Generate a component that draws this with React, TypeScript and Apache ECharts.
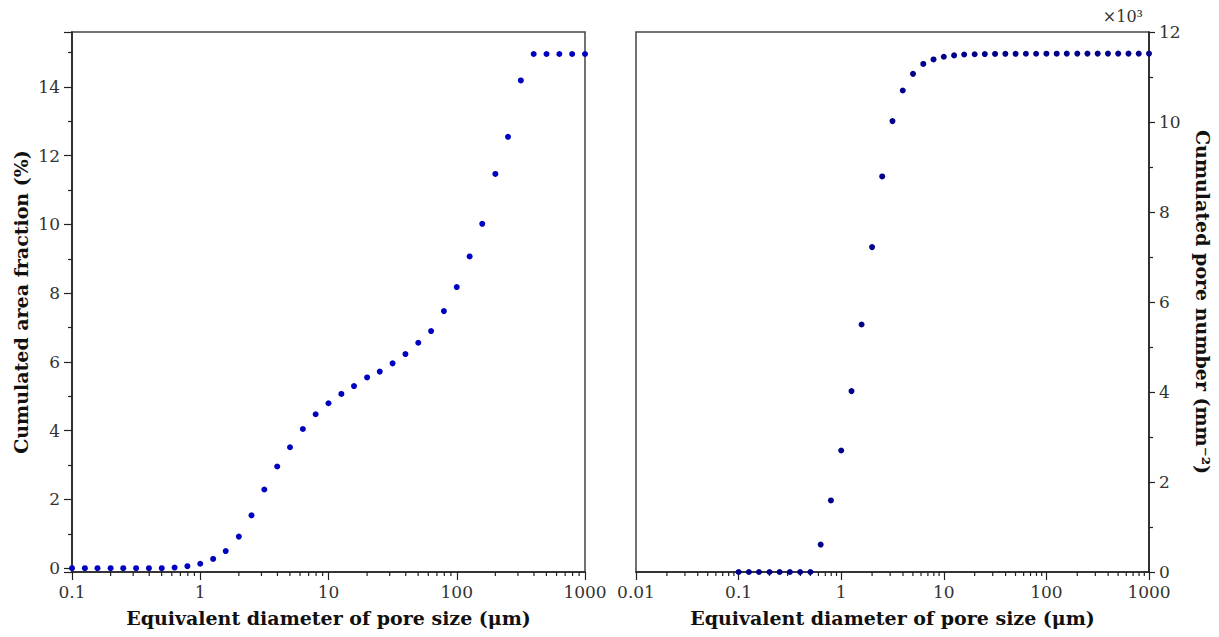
import React, { useEffect, useRef } from "react";
import * as echarts from "echarts";

// Equivalent diameter (µm) of each size class, shared by both panels
const diameters = [
  0.1, 0.126, 0.158, 0.2, 0.251, 0.316, 0.398, 0.501, 0.631, 0.794,
  1, 1.26, 1.58, 2, 2.51, 3.16, 3.98, 5.01, 6.31, 7.94,
  10, 12.6, 15.8, 20, 25.1, 31.6, 39.8, 50.1, 63.1, 79.4,
  100, 126, 158, 200, 251, 316, 398, 501, 631, 794, 1000,
];

// Left panel: cumulated area fraction (%)
const areaFraction = [
  0, 0, 0, 0, 0, 0, 0, 0, 0.02, 0.06,
  0.13, 0.27, 0.5, 0.92, 1.54, 2.29, 2.96, 3.52, 4.05, 4.48,
  4.8, 5.07, 5.3, 5.55, 5.72, 5.96, 6.23, 6.56, 6.9, 7.48,
  8.18, 9.07, 10.02, 11.47, 12.55, 14.19, 14.96, 14.96, 14.96, 14.96, 14.96,
];

// Right panel: cumulated pore number (mm^-2)
const poreNumber = [
  0, 0, 0, 0, 0, 0, 0, 0, 610, 1590,
  2700, 4020, 5500, 7220, 8790, 10020, 10700, 11070, 11290, 11390,
  11450, 11480, 11500, 11505, 11510, 11512, 11515, 11515, 11517, 11517,
  11518, 11518, 11520, 11520, 11520, 11520, 11520, 11520, 11520, 11520, 11520,
];

// Axis labels / ticks
const xTitle = "Equivalent diameter of pore size (μm)";
const leftYTitle = "Cumulated area fraction (%)";
const rightYTitle = "Cumulated pore number (mm⁻²)";
const leftDecades = [0.1, 1, 10, 100];
const rightDecades = [0.01, 0.1, 1, 10, 100];
const minorMultipliers = [2, 3, 4, 5, 6, 7, 8, 9];

const FONT = "DejaVu Serif";
const LEFT_YMIN = -0.11;

function minorTicks(decades: number[]) {
  const out: number[] = [];
  decades.forEach((d) => minorMultipliers.forEach((m) => out.push(+(d * m).toPrecision(3))));
  return out;
}

const fmtLog = (v: number) => (v >= 1 ? String(Math.round(v)) : String(parseFloat(v.toPrecision(3))));

export default function App() {
  const ref = useRef<HTMLDivElement>(null);
  useEffect(() => {
    if (!ref.current) return;
    const chart = echarts.init(ref.current, undefined, { renderer: "svg" });

    const axisLine = { show: true, onZero: false, lineStyle: { color: "#222", width: 1.6 } };
    const labelStyle = { fontFamily: FONT, fontSize: 17, color: "#333" };
    const nameStyle = { fontFamily: FONT, fontSize: 19, fontWeight: "bold" as const, color: "#111" };

    const tickRender = (len: number) => (params: any, api: any) => {
      const p = api.coord([api.value(0), api.value(1)]);
      return {
        type: "line",
        shape: { x1: p[0], y1: p[1], x2: p[0], y2: p[1] + len },
        style: { stroke: "#222", lineWidth: 1.2 },
      };
    };

    chart.setOption({
      animation: false,
      grid: [
        { left: 72, right: 634, top: 32, bottom: 65, show: true, borderColor: "#444", borderWidth: 1.5 },
        { left: 636, right: 70, top: 32, bottom: 65, show: true, borderColor: "#444", borderWidth: 1.5 },
      ],
      xAxis: [
        {
          type: "log", logBase: 10, gridIndex: 0, min: 0.1, max: 1000,
          axisLine, splitLine: { show: false },
          axisTick: { show: true, inside: false, length: 8, lineStyle: { color: "#222", width: 1.2 } },
          axisLabel: { ...labelStyle, margin: 11, formatter: fmtLog },
          name: xTitle, nameLocation: "middle", nameGap: 36, nameTextStyle: nameStyle,
        },
        {
          type: "log", logBase: 10, gridIndex: 1, min: 0.01, max: 1000,
          axisLine, splitLine: { show: false },
          axisTick: { show: true, inside: false, length: 8, lineStyle: { color: "#222", width: 1.2 } },
          axisLabel: { ...labelStyle, margin: 11, formatter: fmtLog },
          name: xTitle, nameLocation: "middle", nameGap: 36, nameTextStyle: nameStyle,
        },
      ],
      yAxis: [
        {
          type: "value", gridIndex: 0, min: LEFT_YMIN, max: 15.6, splitNumber: 8,
          axisLine, splitLine: { show: false },
          axisTick: { show: true, inside: false, length: 8, lineStyle: { color: "#222", width: 1.2 } },
          minorTick: { show: true, splitNumber: 2, length: 4, lineStyle: { color: "#222", width: 1.2 } },
          axisLabel: {
            ...labelStyle, margin: 12,
            formatter: (v: number) => {
              const r = Math.round(v);
              return Math.abs(v - r) < 1e-6 && r % 2 === 0 && r >= 0 && r <= 14 ? String(r) : "";
            },
          },
          name: leftYTitle, nameLocation: "middle", nameRotate: 90, nameGap: 42, nameTextStyle: nameStyle,
        },
        {
          type: "value", gridIndex: 1, position: "right", min: 0, max: 12000, interval: 2000,
          axisLine, splitLine: { show: false },
          axisTick: { show: true, inside: false, length: 6, lineStyle: { color: "#222", width: 1.2 } },
          minorTick: { show: true, splitNumber: 2, length: 4, lineStyle: { color: "#222", width: 1.2 } },
          axisLabel: { ...labelStyle, margin: 10, formatter: (v: number) => String(v / 1000) },
          name: rightYTitle, nameLocation: "middle", nameRotate: -90, nameGap: 44, nameTextStyle: nameStyle,
        },
      ],
      graphic: [
        {
          type: "text", right: 76, top: 8,
          style: { text: "×10³", fontFamily: FONT, fontSize: 16, fill: "#333" },
        },
      ],
      series: [
        {
          type: "scatter", xAxisIndex: 0, yAxisIndex: 0, symbolSize: 6,
          itemStyle: { color: "#0000c0", opacity: 1 },
          data: diameters.map((d, i) => [d, areaFraction[i]]),
        },
        {
          type: "scatter", xAxisIndex: 1, yAxisIndex: 1, symbolSize: 6,
          itemStyle: { color: "#00008b", opacity: 1 },
          data: diameters.map((d, i) => [d, poreNumber[i]]),
        },
        {
          type: "custom", xAxisIndex: 0, yAxisIndex: 0, clip: false, silent: true,
          renderItem: tickRender(4),
          data: minorTicks(leftDecades).map((v) => [v, LEFT_YMIN]),
        },
        {
          type: "custom", xAxisIndex: 1, yAxisIndex: 1, clip: false, silent: true,
          renderItem: tickRender(4),
          data: minorTicks(rightDecades).map((v) => [v, 0]),
        },
      ],
    });
    return () => chart.dispose();
  }, []);
  return (
    <div
      ref={ref}
      style={{ position: "fixed", left: 0, top: 0, width: "1219px", height: "637px", background: "#fff" }}
    />
  );
}
